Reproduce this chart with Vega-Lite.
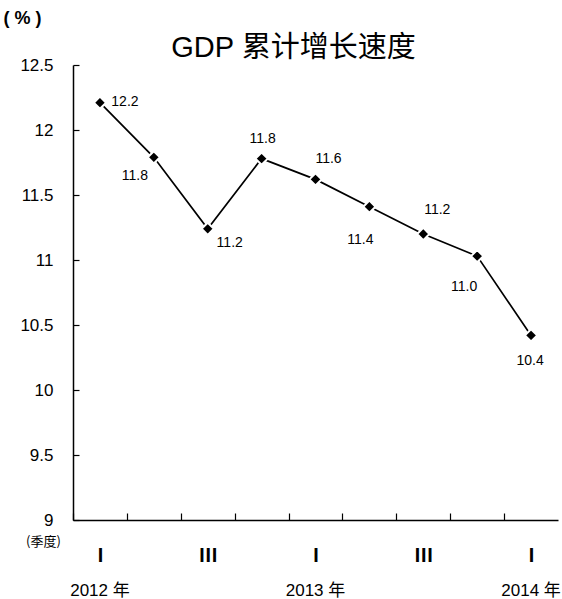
{
  "$schema": "https://vega.github.io/schema/vega-lite/v6.json",
  "width": 485,
  "height": 455,
  "autosize": {"type": "none"},
  "padding": {"left": 73, "top": 65, "right": 4, "bottom": 79},
  "background": "white",
  "config": {
    "view": {"stroke": null},
    "axis": {
      "grid": false,
      "domainColor": "black",
      "domainWidth": 1.5,
      "tickColor": "black",
      "tickWidth": 1.2,
      "labelColor": "black",
      "titleColor": "black",
      "labelFont": "Liberation Sans",
      "titleFont": "Liberation Sans"
    },
    "text": {"font": "Liberation Sans", "fontSize": 14, "color": "black"}
  },
  "title": {
    "text": "GDP 累计增长速度",
    "font": "Liberation Sans, Noto Sans CJK SC",
    "fontSize": 29,
    "fontWeight": "normal",
    "color": "black",
    "anchor": "middle",
    "frame": "group",
    "dx": -22,
    "dy": 62,
    "offset": 8
  },
  "data": {
    "values": [
      {"q": "2012Q1", "v": 12.21, "yr": "2012 年"},
      {"q": "2012Q2", "v": 11.79, "yr": ""},
      {"q": "2012Q3", "v": 11.24, "yr": ""},
      {"q": "2012Q4", "v": 11.78, "yr": ""},
      {"q": "2013Q1", "v": 11.62, "yr": "2013 年"},
      {"q": "2013Q2", "v": 11.41, "yr": ""},
      {"q": "2013Q3", "v": 11.2, "yr": ""},
      {"q": "2013Q4", "v": 11.03, "yr": ""},
      {"q": "2014Q1", "v": 10.42, "yr": "2014 年"}
    ]
  },
  "encoding": {
    "x": {
      "field": "q", "type": "ordinal", "sort": null,
      "scale": {"type": "band", "paddingInner": 0, "paddingOuter": 0},
      "axis": {
        "orient": "bottom",
        "tickSize": -7,
        "tickOffset": -26.94,
        "labelOffset": 26.94,
        "labelPadding": 42,
        "labelBaseline": "middle",
        "labelAngle": 0,
        "labelOverlap": false,
        "labelExpr": "indexof(datum.value, 'Q1') > 0 ? 'Ⅰ' : (indexof(datum.value, 'Q3') > 0 ? 'Ⅲ' : '')",
        "labelFont": "Noto Sans CJK SC",
        "labelFontSize": 19,
        "labelFontWeight": "bold",
        "title": "(季度)",
        "titleFont": "Noto Sans CJK SC",
        "titleFontSize": 13,
        "titleFontWeight": "normal",
        "titleX": -30,
        "titleY": 21,
        "titleAlign": "center",
        "titleBaseline": "middle"
      }
    },
    "y": {
      "field": "v", "type": "quantitative",
      "scale": {"domain": [9, 12.5], "nice": false, "zero": false},
      "axis": {
        "orient": "left",
        "values": [9, 9.5, 10, 10.5, 11, 11.5, 12, 12.5],
        "format": "~g",
        "tickSize": -6,
        "labelPadding": 26,
        "labelFontSize": 17,
        "title": "( % )",
        "titleAngle": 0,
        "titleX": -70,
        "titleY": -47,
        "titleAlign": "left",
        "titleBaseline": "middle",
        "titleFontSize": 18,
        "titleFontWeight": "bold"
      }
    }
  },
  "layer": [
    {"mark": {"type": "line", "color": "black", "strokeWidth": 1.7}},
    {"mark": {"type": "point", "shape": "diamond", "filled": true, "fill": "black", "stroke": "white", "strokeWidth": 2, "size": 150, "opacity": 1}},
    {
      "mark": {"type": "text", "dy": 71, "fontSize": 17, "font": "Liberation Sans, Noto Sans CJK SC"},
      "encoding": {"y": {"datum": 9}, "text": {"field": "yr"}}
    },
    {"transform": [{"filter": "datum.q == '2012Q1'"}], "mark": {"type": "text", "dx": 25, "dy": -1}, "encoding": {"text": {"field": "v", "format": ".1f"}}},
    {"transform": [{"filter": "datum.q == '2012Q2'"}], "mark": {"type": "text", "dx": -19, "dy": 19}, "encoding": {"text": {"field": "v", "format": ".1f"}}},
    {"transform": [{"filter": "datum.q == '2012Q3'"}], "mark": {"type": "text", "dx": 22, "dy": 14}, "encoding": {"text": {"field": "v", "format": ".1f"}}},
    {"transform": [{"filter": "datum.q == '2012Q4'"}], "mark": {"type": "text", "dx": 1, "dy": -20}, "encoding": {"text": {"field": "v", "format": ".1f"}}},
    {"transform": [{"filter": "datum.q == '2013Q1'"}], "mark": {"type": "text", "dx": 13, "dy": -20}, "encoding": {"text": {"field": "v", "format": ".1f"}}},
    {"transform": [{"filter": "datum.q == '2013Q2'"}], "mark": {"type": "text", "dx": -9, "dy": 33}, "encoding": {"text": {"field": "v", "format": ".1f"}}},
    {"transform": [{"filter": "datum.q == '2013Q3'"}], "mark": {"type": "text", "dx": 14, "dy": -24}, "encoding": {"text": {"field": "v", "format": ".1f"}}},
    {"transform": [{"filter": "datum.q == '2013Q4'"}], "mark": {"type": "text", "dx": -13, "dy": 31}, "encoding": {"text": {"field": "v", "format": ".1f"}}},
    {"transform": [{"filter": "datum.q == '2014Q1'"}], "mark": {"type": "text", "dx": -1, "dy": 26}, "encoding": {"text": {"field": "v", "format": ".1f"}}}
  ]
}
